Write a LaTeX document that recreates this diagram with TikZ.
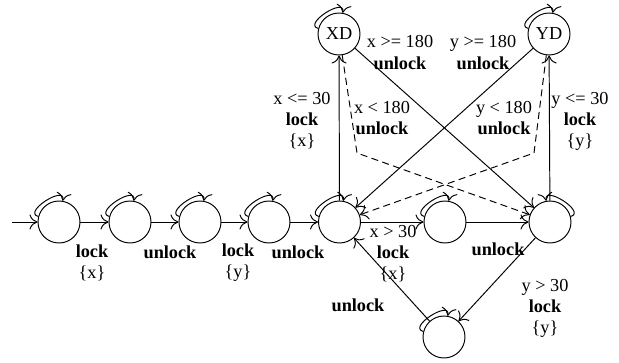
\documentclass[tikz,border=0pt]{standalone}
\usepackage{fontspec}
\setmainfont{Liberation Serif}
\usetikzlibrary{arrows.meta,positioning}
\tikzset{
  >={Computer Modern Rightarrow[length=1.6mm,width=3mm]},
  every path/.style={line width=0.55pt},
  state/.style={circle,draw,minimum size=8.4mm,inner sep=0pt,
    font=\fontsize{10.4}{12}\selectfont},
  lbl/.style={align=center,inner sep=0pt,font=\fontsize{10.4}{12}\selectfont},
  selfloop/.style={->,out=165,in=80,distance=3.3mm},
  move/.style={->},
  guard/.style={->,dashed,dash pattern=on 4pt off 2.5pt},
}
\begin{document}
\begin{tikzpicture}
    \useasboundingbox (0,0) rectangle (12.38,7.24);
    % main row of states
    \foreach \n/\x in {c1/1.18,c2/2.60,c3/4.00,c4/5.38,c5/6.79,c6/8.90,c7/11.00}
      \node[state] (\n) at (\x,2.80) {};
    \node[state] (bot) at (8.88,0.50) {};
    \node[state] (XD) at (6.78,6.56) {XD};
    \node[state] (YD) at (10.98,6.56) {YD};
    \coordinate (start) at (0.24,2.80);
    \coordinate (bx) at (7.14,4.18);
    \coordinate (by) at (10.68,4.18);
    % self loops
    \foreach \n in {c1,c2,c3,c4,c5,c6,bot,XD,YD}
      \path (\n) edge[selfloop] (\n);
    \path (c7) edge[->,out=15,in=100,distance=3.3mm] (c7);
    % transitions
    \draw[move] (start) -- (c1);
    \foreach \a/\b in {c1/c2,c2/c3,c3/c4,c4/c5,c5/c6,c6/c7,c7/bot,bot/c5,c5/XD,c7/YD,XD/c7,YD/c5}
      \draw[move] (\a) -- (\b);
    \draw[guard] (XD) -- (bx) -- (c7);
    \draw[guard] (YD) -- (by) -- (c5);
    % labels
    \node[lbl] (l12) at (1.84,1.99) {\textbf{lock}\\\{x\}};
    \node[lbl] (l23) at (3.40,2.20) {\textbf{unlock}};
    \node[lbl] (l34) at (4.76,1.99) {\textbf{lock}\\\{y\}};
    \node[lbl] (l45) at (5.96,2.20) {\textbf{unlock}};
    \node[lbl] (l56) at (7.86,2.17) {x > 30\\\textbf{lock}\\\{x\}};
    \node[lbl] (l67) at (9.96,2.26) {\textbf{unlock}};
    \node[lbl] (l7b) at (10.90,1.07) {y > 30\\\textbf{lock}\\\{y\}};
    \node[lbl] (lb5) at (7.16,1.14) {\textbf{unlock}};
    \node[lbl] (l5x) at (6.04,4.82) {x <= 30\\\textbf{lock}\\\{x\}};
    \node[lbl] (l7y) at (11.60,4.82) {y <= 30\\\textbf{lock}\\\{y\}};
    \node[lbl] (lx7) at (8.00,6.19) {x >= 180\\\textbf{unlock}};
    \node[lbl] (ly5) at (9.66,6.19) {y >= 180\\\textbf{unlock}};
    \node[lbl] (lx7d) at (7.64,4.88) {x < 180\\\textbf{unlock}};
    \node[lbl] (ly5d) at (10.08,4.88) {y < 180\\\textbf{unlock}};
  \end{tikzpicture}
\end{document}
